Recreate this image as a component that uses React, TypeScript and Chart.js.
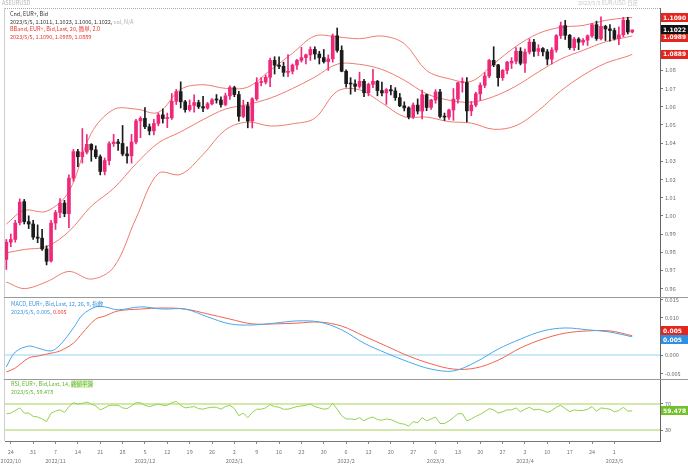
import React, { useEffect, useRef } from 'react';
import { Chart, registerables } from 'chart.js';

Chart.register(...registerables);

const FONT = '"Noto Sans CJK JP", "Noto Sans", "DejaVu Sans", sans-serif';

// ---- Daily candles, EUR/USD, 2022/10/21 .. 2023/5/5 ----
const OPEN = [
  0.9760, 0.9855, 0.9870, 0.9962, 1.0078, 0.9968, 0.9955, 0.9883, 0.9877, 0.9818,
  0.9752, 0.9960, 1.0018, 1.0070, 1.0012, 1.0207, 1.0353, 1.0325, 1.0350, 1.0393,
  1.0363, 1.0325, 1.0244, 1.0304, 1.0397, 1.0406, 1.0398, 1.0340, 1.0330, 1.0406,
  1.0522, 1.0536, 1.0490, 1.0467, 1.0508, 1.0555, 1.0535, 1.0539, 1.0630, 1.0683,
  1.0627, 1.0584, 1.0607, 1.0623, 1.0600, 1.0593, 1.0616, 1.0638, 1.0637, 1.0612,
  1.0660, 1.0705, 1.0667, 1.0547, 1.0605, 1.0522, 1.0643, 1.0733, 1.0736, 1.0762,
  1.0855, 1.0829, 1.0822, 1.0789, 1.0795, 1.0829, 1.0855, 1.0870, 1.0885, 1.0915,
  1.0890, 1.0870, 1.0848, 1.0863, 1.0990, 1.0910, 1.0795, 1.0727, 1.0725, 1.0712,
  1.0740, 1.0677, 1.0723, 1.0740, 1.0689, 1.0676, 1.0694, 1.0687, 1.0650, 1.0605,
  1.0594, 1.0545, 1.0609, 1.0576, 1.0666, 1.0596, 1.0637, 1.0681, 1.0547, 1.0543,
  1.0582, 1.0642, 1.0732, 1.0733, 1.0577, 1.0609, 1.0671, 1.0718, 1.0769, 1.0855,
  1.0830, 1.0760, 1.0800, 1.0840, 1.0850, 1.0905, 1.0839, 1.0901, 1.0955, 1.0905,
  1.0920, 1.0902, 1.0862, 1.0912, 1.0991, 1.1046, 1.0993, 1.0925, 1.0972, 1.0955,
  1.0966, 1.0990, 1.1051, 1.0975, 1.1042, 1.1028, 1.1019, 1.0975, 1.0995, 1.1076,
  1.1011,
];
const HIGH = [
  0.9870, 0.9900, 0.9975, 1.0093, 1.0090, 1.0000, 0.9975, 0.9950, 0.9925, 0.9835,
  0.9975, 1.0030, 1.0095, 1.0085, 1.0225, 1.0365, 1.0365, 1.0480, 1.0447, 1.0397,
  1.0385, 1.0335, 1.0318, 1.0407, 1.0448, 1.0420, 1.0497, 1.0380, 1.0448, 1.0530,
  1.0545, 1.0595, 1.0505, 1.0530, 1.0565, 1.0588, 1.0565, 1.0673, 1.0695, 1.0737,
  1.0635, 1.0637, 1.0665, 1.0636, 1.0657, 1.0624, 1.0645, 1.0667, 1.0655, 1.0675,
  1.0715, 1.0713, 1.0684, 1.0636, 1.0625, 1.0650, 1.0760, 1.0760, 1.0775, 1.0868,
  1.0875, 1.0875, 1.0845, 1.0887, 1.0835, 1.0861, 1.0927, 1.0890, 1.0929, 1.0930,
  1.0905, 1.0915, 1.0885, 1.1000, 1.1033, 1.0935, 1.0803, 1.0760, 1.0748, 1.0790,
  1.0750, 1.0730, 1.0805, 1.0745, 1.0735, 1.0700, 1.0718, 1.0705, 1.0673, 1.0627,
  1.0600, 1.0621, 1.0643, 1.0691, 1.0670, 1.0640, 1.0694, 1.0695, 1.0565, 1.0587,
  1.0700, 1.0736, 1.0759, 1.0760, 1.0629, 1.0680, 1.0731, 1.0788, 1.0860, 1.0930,
  1.0833, 1.0805, 1.0850, 1.0870, 1.0925, 1.0925, 1.0917, 1.0973, 1.0971, 1.0941,
  1.0925, 1.0915, 1.0925, 1.0997, 1.1066, 1.1075, 1.0998, 1.0982, 1.0980, 1.0975,
  1.0995, 1.1058, 1.1071, 1.1095, 1.1048, 1.1052, 1.1032, 1.1040, 1.1092, 1.1092,
  1.1023,
];
const LOW = [
  0.9705, 0.9830, 0.9855, 0.9950, 0.9955, 0.9930, 0.9870, 0.9852, 0.9810, 0.9730,
  0.9745, 0.9925, 0.9990, 0.9995, 0.9935, 1.0190, 1.0270, 1.0290, 1.0340, 1.0300,
  1.0315, 1.0225, 1.0225, 1.0280, 1.0382, 1.0360, 1.0330, 1.0290, 1.0290, 1.0395,
  1.0430, 1.0480, 1.0445, 1.0445, 1.0495, 1.0510, 1.0485, 1.0530, 1.0612, 1.0593,
  1.0570, 1.0575, 1.0570, 1.0590, 1.0573, 1.0586, 1.0610, 1.0620, 1.0598, 1.0605,
  1.0640, 1.0655, 1.0520, 1.0540, 1.0484, 1.0483, 1.0635, 1.0715, 1.0725, 1.0710,
  1.0780, 1.0810, 1.0767, 1.0766, 1.0780, 1.0805, 1.0845, 1.0835, 1.0855, 1.0862,
  1.0835, 1.0840, 1.0800, 1.0845, 1.0900, 1.0792, 1.0708, 1.0669, 1.0684, 1.0702,
  1.0656, 1.0660, 1.0705, 1.0660, 1.0660, 1.0613, 1.0665, 1.0635, 1.0600, 1.0577,
  1.0533, 1.0535, 1.0560, 1.0533, 1.0578, 1.0585, 1.0619, 1.0538, 1.0524, 1.0530,
  1.0525, 1.0620, 1.0680, 1.0516, 1.0551, 1.0600, 1.0635, 1.0705, 1.0760, 1.0820,
  1.0713, 1.0745, 1.0780, 1.0810, 1.0835, 1.0830, 1.0789, 1.0890, 1.0877, 1.0880,
  1.0880, 1.0830, 1.0835, 1.0900, 1.0975, 1.0970, 1.0915, 1.0910, 1.0914, 1.0939,
  1.0937, 1.0981, 1.0965, 1.0968, 1.0964, 1.0961, 1.0967, 1.0942, 1.0985, 1.1000,
  1.1006,
];
const CLOSE = [
  0.9855, 0.9870, 0.9960, 1.0075, 0.9968, 0.9955, 0.9883, 0.9877, 0.9818, 0.9750,
  0.9960, 1.0018, 1.0070, 1.0012, 1.0207, 1.0353, 1.0325, 1.0350, 1.0393, 1.0363,
  1.0325, 1.0244, 1.0304, 1.0397, 1.0406, 1.0398, 1.0340, 1.0330, 1.0406, 1.0522,
  1.0536, 1.0490, 1.0467, 1.0508, 1.0555, 1.0535, 1.0539, 1.0630, 1.0683, 1.0627,
  1.0584, 1.0607, 1.0623, 1.0600, 1.0593, 1.0616, 1.0638, 1.0637, 1.0612, 1.0660,
  1.0705, 1.0667, 1.0547, 1.0605, 1.0522, 1.0643, 1.0733, 1.0736, 1.0762, 1.0855,
  1.0829, 1.0822, 1.0789, 1.0795, 1.0829, 1.0855, 1.0870, 1.0885, 1.0915, 1.0890,
  1.0870, 1.0848, 1.0863, 1.0990, 1.0910, 1.0795, 1.0727, 1.0725, 1.0712, 1.0740,
  1.0677, 1.0723, 1.0740, 1.0689, 1.0676, 1.0694, 1.0687, 1.0650, 1.0605, 1.0594,
  1.0545, 1.0609, 1.0576, 1.0666, 1.0596, 1.0637, 1.0681, 1.0547, 1.0543, 1.0582,
  1.0642, 1.0732, 1.0733, 1.0577, 1.0609, 1.0671, 1.0718, 1.0769, 1.0855, 1.0830,
  1.0760, 1.0800, 1.0845, 1.0850, 1.0905, 1.0839, 1.0901, 1.0955, 1.0905, 1.0920,
  1.0902, 1.0862, 1.0912, 1.0991, 1.1046, 1.0993, 1.0925, 1.0972, 1.0955, 1.0966,
  1.0990, 1.1051, 1.0975, 1.1042, 1.1028, 1.1019, 1.0975, 1.0995, 1.1076, 1.1011,
  1.1022,
];

// ---- Bollinger band (20, 2.0) read at these bar numbers ----
const BAND_IDX = [0, 4, 9, 14, 19, 24, 29, 34, 39, 44, 49, 54, 59, 64, 69, 74, 79, 84, 89, 94, 99, 104, 109, 114, 119, 124, 129, 134, 139, 140];
const BB_UPPER = [0.9955, 1.0030, 1.0025, 1.0134, 1.0454, 1.0585, 1.0587, 1.0569, 1.0696, 1.0721, 1.0701, 1.0708, 1.0800, 1.0894, 1.0989, 1.0984, 1.0974, 1.0989, 1.0947, 1.0799, 1.0754, 1.0740, 1.0836, 1.0932, 1.1003, 1.1037, 1.1047, 1.1075, 1.1090, 1.1090];
const BB_MID = [0.9796, 0.9815, 0.9831, 0.9914, 1.0053, 1.0151, 1.0286, 1.0401, 1.0462, 1.0529, 1.0587, 1.0612, 1.0647, 1.0700, 1.0763, 1.0834, 1.0833, 1.0805, 1.0746, 1.0671, 1.0636, 1.0625, 1.0656, 1.0714, 1.0791, 1.0862, 1.0910, 1.0957, 1.0984, 1.0989];
const BB_LOWER = [0.9636, 0.9600, 0.9637, 0.9694, 0.9652, 0.9717, 0.9986, 1.0233, 1.0228, 1.0337, 1.0473, 1.0516, 1.0494, 1.0506, 1.0537, 1.0685, 1.0693, 1.0621, 1.0545, 1.0543, 1.0518, 1.0510, 1.0476, 1.0496, 1.0579, 1.0687, 1.0773, 1.0839, 1.0878, 1.0889];

// ---- MACD (12, 26, 9) read at these bar numbers ----
const MACD_IDX = [0, 2, 5, 7, 10, 12, 15, 17, 20, 22, 25, 30, 35, 40, 45, 50, 55, 60, 65, 70, 75, 80, 85, 90, 95, 100, 105, 110, 115, 120, 125, 130, 135, 140];
const MACD_LINE = [-0.0032, 0.0008, 0.0024, 0.0019, 0.0011, 0.0027, 0.0073, 0.0108, 0.0130, 0.0130, 0.0122, 0.0130, 0.0124, 0.0124, 0.0103, 0.0084, 0.0081, 0.0086, 0.0092, 0.0089, 0.0068, 0.0032, 0.0005, -0.0019, -0.0038, -0.0043, -0.0019, 0.0016, 0.0043, 0.0065, 0.0073, 0.0068, 0.0062, 0.0049];
const MACD_SIGNAL = [-0.0046, -0.0035, -0.0008, -0.0003, 0.0005, 0.0011, 0.0032, 0.0059, 0.0097, 0.0105, 0.0119, 0.0124, 0.0127, 0.0124, 0.0111, 0.0097, 0.0084, 0.0084, 0.0086, 0.0089, 0.0078, 0.0051, 0.0024, -0.0003, -0.0024, -0.0038, -0.0035, -0.0014, 0.0019, 0.0043, 0.0059, 0.0065, 0.0065, 0.0052];

// ---- RSI (14) per bar ----
const RSI = [
  55, 56, 60, 64, 56, 56, 51, 50, 47, 43,
  56, 59, 61, 57, 66, 72, 70, 71, 73, 70,
  67, 61, 64, 68, 68, 68, 64, 63, 67, 72,
  72, 68, 66, 68, 70, 68, 68, 72, 74, 68,
  64, 65, 66, 63, 62, 64, 65, 65, 62, 66,
  68, 63, 52, 56, 49, 57, 62, 62, 64, 69,
  66, 65, 62, 62, 64, 66, 67, 68, 70, 66,
  64, 62, 63, 71, 62, 52, 47, 47, 46, 49,
  44, 48, 50, 46, 45, 47, 46, 43, 40, 39,
  36, 43, 41, 49, 44, 47, 50, 40, 40, 44,
  49, 55, 55, 44, 47, 51, 54, 58, 63, 61,
  56, 58, 61, 61, 64, 58, 62, 65, 61, 62,
  60, 57, 60, 65, 68, 63, 58, 61, 60, 60,
  62, 66, 59, 64, 63, 62, 58, 60, 65, 59,
  59.478,
];
const RSI_LEVELS = [70, 30];

// ---- axis ticks ----
const PRICE_TICKS = [0.96, 0.97, 0.98, 0.99, 1.0, 1.01, 1.02, 1.03, 1.04, 1.05, 1.06, 1.07, 1.08, 1.09, 1.10, 1.11];
const MACD_TICKS = [-0.005, 0, 0.005, 0.01, 0.015];
const RSI_TICKS = [30, 70];
const X_TICK_IDX = [1, 6, 11, 16, 21, 26, 31, 36, 41, 46, 51, 56, 61, 66, 71, 76, 81, 86, 91, 96, 101, 106, 111, 116, 121, 126, 131, 136];
const X_TICK_DAY = ['24', '31', '7', '14', '21', '28', '5', '12', '19', '26', '2', '9', '16', '23', '30', '6', '13', '20', '27', '6', '13', '20', '27', '3', '10', '17', '24', '1'];
const X_TICK_MONTH = ['2022/10', '', '2022/11', '', '', '', '2022/12', '', '', '', '2023/1', '', '', '', '', '2023/2', '', '', '', '2023/3', '', '', '', '2023/4', '', '', '', '2023/5'];

const X_MIN = -0.3;
const X_MAX = 146.2;
const PRICE_MIN = 0.95535;
const PRICE_MAX = 1.1143;
const MACD_MIN = -0.00648;
const MACD_MAX = 0.01539;
const RSI_MIN = 13.1;
const RSI_MAX = 106.9;

const BULL = '#f0287a';
const BEAR = '#1c1c1c';
const BAND = '#ee7b70';
const MACD_BLUE = '#48a8ee';
const SIGNAL_RED = '#f0644e';
const ZERO_BLUE = '#93d1f3';
const RSI_GREEN = '#93d24f';
const LEVEL_GREEN = '#a6d257';

type Box = { value: number; text: string; bg: string; fg: string; dy?: number };

function boxPlugin(id: string, boxes: Box[]) {
  return {
    id,
    afterDraw(chart: any) {
      const ys = chart.scales.y;
      const ctx = chart.ctx;
      const x0 = chart.chartArea.right + 1;
      ctx.save();
      ctx.font = 'bold 6px "DejaVu Sans", sans-serif';
      ctx.textBaseline = 'middle';
      for (const b of boxes) {
        const y = ys.getPixelForValue(b.value) + (b.dy || 0);
        ctx.fillStyle = b.bg;
        ctx.fillRect(x0, Math.round(y - 4.5), 27, 9);
        ctx.fillStyle = b.fg;
        ctx.fillText(b.text, x0 + 2, y + 0.5);
      }
      ctx.restore();
    },
  };
}

function rightAxis(min: number, max: number, ticks: number[], fmt: (v: number) => string) {
  return {
    position: 'right',
    min,
    max,
    afterBuildTicks: (s: any) => {
      s.ticks = ticks.map((v) => ({ value: v }));
    },
    ticks: {
      autoSkip: false,
      font: { size: 5.5, family: FONT },
      color: '#6a6a6a',
      padding: 2,
      callback: (v: any) => fmt(Number(v)),
    },
    grid: { display: true, drawOnChartArea: false, drawTicks: true, tickLength: 3, color: '#777' },
    border: { display: true, color: '#666' },
    afterFit: (s: any) => {
      s.width = 28;
      s.paddingTop = 0;
      s.paddingBottom = 0;
    },
  };
}

const hiddenX = { type: 'linear', min: X_MIN, max: X_MAX, display: false, offset: false };

export default function App() {
  const mainRef = useRef<HTMLCanvasElement>(null);
  const macdRef = useRef<HTMLCanvasElement>(null);
  const rsiRef = useRef<HTMLCanvasElement>(null);

  useEffect(() => {
    const charts: Chart[] = [];
    const n = CLOSE.length;
    const idx = Array.from({ length: n }, (_, i) => i);
    const colors = idx.map((i) => (CLOSE[i] >= OPEN[i] ? BULL : BEAR));
    const bandLine = (vals: number[]) => ({
      type: 'line',
      data: BAND_IDX.map((x, k) => ({ x, y: vals[k] })),
      borderColor: BAND,
      borderWidth: 1,
      pointRadius: 0,
      tension: 0.35,
      fill: false,
    });

    const common = {
      animation: false,
      responsive: false,
      maintainAspectRatio: false,
      devicePixelRatio: 1,
      events: [],
      layout: { padding: { left: 5, right: 0, top: 0, bottom: 0 } },
      plugins: { legend: { display: false }, tooltip: { enabled: false } },
    };

    if (mainRef.current) {
      charts.push(
        new Chart(mainRef.current, {
          type: 'bar',
          data: {
            datasets: [
              {
                type: 'bar',
                data: idx.map((i) => ({ x: i, y: [OPEN[i], CLOSE[i]] })),
                backgroundColor: colors,
                borderWidth: 0,
                barThickness: 3,
                minBarLength: 1,
                grouped: false,
              },
              {
                type: 'bar',
                data: idx.map((i) => ({ x: i, y: [LOW[i], HIGH[i]] })),
                backgroundColor: colors,
                borderWidth: 0,
                barThickness: 1,
                grouped: false,
              },
              bandLine(BB_UPPER),
              bandLine(BB_MID),
              bandLine(BB_LOWER),
            ] as any,
          },
          options: {
            ...common,
            scales: {
              x: hiddenX,
              y: rightAxis(PRICE_MIN, PRICE_MAX, PRICE_TICKS, (v) => v.toFixed(2)),
            },
          } as any,
          plugins: [
            boxPlugin('mainBoxes', [
              { value: BB_LOWER[BB_LOWER.length - 1], text: BB_LOWER[BB_LOWER.length - 1].toFixed(4), bg: '#e3261d', fg: '#fff' },
              { value: BB_MID[BB_MID.length - 1], text: BB_MID[BB_MID.length - 1].toFixed(4), bg: '#e3261d', fg: '#fff', dy: 1 },
              { value: BB_UPPER[BB_UPPER.length - 1], text: BB_UPPER[BB_UPPER.length - 1].toFixed(4), bg: '#e3261d', fg: '#fff' },
              { value: CLOSE[n - 1], text: CLOSE[n - 1].toFixed(4), bg: '#111', fg: '#fff' },
            ]),
          ],
        } as any)
      );
    }

    if (macdRef.current) {
      charts.push(
        new Chart(macdRef.current, {
          type: 'line',
          data: {
            datasets: [
              {
                data: MACD_IDX.map((x, k) => ({ x, y: MACD_LINE[k] })),
                borderColor: MACD_BLUE,
                borderWidth: 1,
                pointRadius: 0,
                tension: 0.35,
              },
              {
                data: MACD_IDX.map((x, k) => ({ x, y: MACD_SIGNAL[k] })),
                borderColor: SIGNAL_RED,
                borderWidth: 1,
                pointRadius: 0,
                tension: 0.35,
              },
              {
                data: [
                  { x: X_MIN, y: 0 },
                  { x: X_MAX, y: 0 },
                ],
                borderColor: ZERO_BLUE,
                borderWidth: 1,
                pointRadius: 0,
              },
            ],
          },
          options: {
            ...common,
            scales: {
              x: hiddenX,
              y: rightAxis(MACD_MIN, MACD_MAX, MACD_TICKS, (v) => v.toFixed(3)),
            },
          } as any,
          plugins: [
            boxPlugin('macdBoxes', [
              { value: MACD_SIGNAL[MACD_SIGNAL.length - 1], text: MACD_SIGNAL[MACD_SIGNAL.length - 1].toFixed(3), bg: '#e3261d', fg: '#fff', dy: -5 },
              { value: MACD_LINE[MACD_LINE.length - 1], text: MACD_LINE[MACD_LINE.length - 1].toFixed(3), bg: '#2f8fe0', fg: '#fff', dy: 3 },
            ]),
          ],
        } as any)
      );
    }

    if (rsiRef.current) {
      charts.push(
        new Chart(rsiRef.current, {
          type: 'line',
          data: {
            datasets: [
              {
                data: idx.map((i) => ({ x: i, y: RSI[i] })),
                borderColor: RSI_GREEN,
                borderWidth: 1,
                pointRadius: 0,
                tension: 0,
              },
              ...RSI_LEVELS.map((lv) => ({
                data: [
                  { x: X_MIN, y: lv },
                  { x: X_MAX, y: lv },
                ],
                borderColor: LEVEL_GREEN,
                borderWidth: 1,
                pointRadius: 0,
              })),
            ],
          },
          options: {
            ...common,
            scales: {
              x: {
                type: 'linear',
                min: X_MIN,
                max: X_MAX,
                offset: false,
                afterBuildTicks: (s: any) => {
                  s.ticks = X_TICK_IDX.map((v) => ({ value: v }));
                },
                ticks: {
                  autoSkip: false,
                  maxRotation: 0,
                  font: { size: 5.5, family: FONT, lineHeight: 1.7 },
                  color: '#777',
                  padding: 3,
                  callback: (_v: any, k: number) =>
                    X_TICK_MONTH[k] ? [X_TICK_DAY[k], X_TICK_MONTH[k]] : X_TICK_DAY[k],
                },
                grid: { display: true, drawOnChartArea: false, tickLength: 3, color: '#888' },
                border: { display: true, color: '#777' },
                afterFit: (s: any) => {
                  s.height = 26;
                  s.paddingLeft = 0;
                  s.paddingRight = 0;
                },
              },
              y: rightAxis(RSI_MIN, RSI_MAX, RSI_TICKS, (v) => v.toFixed(0)),
            },
          } as any,
          plugins: [
            boxPlugin('rsiBoxes', [
              { value: RSI[n - 1], text: RSI[n - 1].toFixed(3), bg: '#72c02c', fg: '#fff' },
            ]),
          ],
        } as any)
      );
    }

    return () => charts.forEach((c) => c.destroy());
  }, []);

  const txt: React.CSSProperties = {
    position: 'absolute',
    fontSize: '5.5px',
    lineHeight: '7.7px',
    whiteSpace: 'nowrap',
    fontFamily: FONT,
  };

  return (
    <div
      style={{
        position: 'absolute',
        left: 0,
        top: 0,
        width: 688,
        height: 467,
        background: '#fff',
        overflow: 'hidden',
        fontFamily: FONT,
      }}
    >
      <canvas ref={mainRef} width={688} height={289} style={{ position: 'absolute', left: 0, top: 8, display: 'block' }} />
      <canvas ref={macdRef} width={688} height={81} style={{ position: 'absolute', left: 0, top: 298, display: 'block' }} />
      <canvas ref={rsiRef} width={688} height={87} style={{ position: 'absolute', left: 0, top: 380, display: 'block' }} />

      {/* frame */}
      <div style={{ position: 'absolute', left: 4, top: 8, width: 656, height: 0, borderTop: '1px dotted #aaa' }} />
      <div style={{ position: 'absolute', left: 4, top: 8, width: 0, height: 433, borderLeft: '1px solid #cfcfcf' }} />
      <div style={{ position: 'absolute', left: 4, top: 297, width: 684, height: 0, borderTop: '1px solid #9a9a9a' }} />
      <div style={{ position: 'absolute', left: 4, top: 379, width: 684, height: 0, borderTop: '1px solid #9a9a9a' }} />

      {/* top captions */}
      <div style={{ ...txt, left: 2, top: 0, color: '#b5b5b5' }}>ASEURUSD</div>
      <div style={{ ...txt, left: 578, top: 0, color: '#c8c8c8' }}>2023/5/5 EUR/USD 日足</div>

      {/* main legend */}
      <div style={{ ...txt, left: 10, top: 11 }}>
        <div style={{ color: '#333' }}>Cnd, EUR+, Bid</div>
        <div style={{ color: '#333' }}>
          2023/5/5, 1.1011, 1.1023, 1.1006, 1.1022, <span style={{ color: '#b0b0b0' }}>vol, N/A</span>
        </div>
        <div style={{ color: '#e8352b' }}>BBand, EUR+, Bid,Last, 20, 簡単, 2.0</div>
        <div style={{ color: '#e8352b' }}>2023/5/5, 1.1090, 1.0989, 1.0889</div>
      </div>

      {/* MACD legend */}
      <div style={{ ...txt, left: 11, top: 301 }}>
        <div style={{ color: '#3b93dc' }}>MACD, EUR+, Bid,Last, 12, 26, 9, 指数</div>
        <div style={{ color: '#3b93dc' }}>
          2023/5/5, 0.005, <span style={{ color: '#e8352b' }}>0.005</span>
        </div>
      </div>

      {/* RSI legend */}
      <div style={{ ...txt, left: 11, top: 381 }}>
        <div style={{ color: '#5fb52e' }}>
          RSI, EUR+, Bid,Last, 14, <span style={{ background: '#d9f0c0' }}>終値平滑</span>
        </div>
        <div style={{ color: '#5fb52e' }}>2023/5/5, 59.478</div>
      </div>
    </div>
  );
}
